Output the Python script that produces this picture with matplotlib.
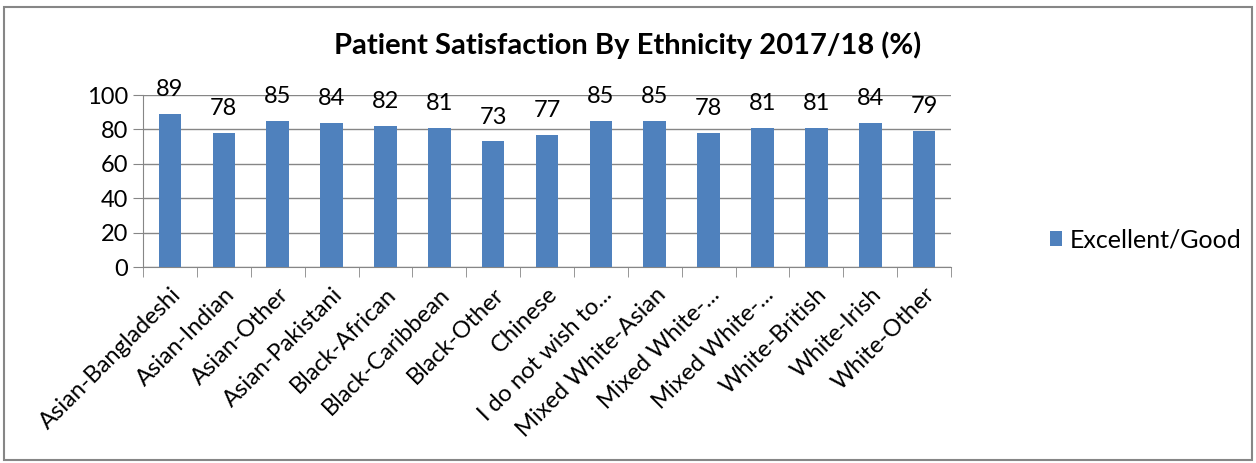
import matplotlib
matplotlib.use("Agg")
import matplotlib.pyplot as plt
from matplotlib.patches import Rectangle

# data
categories = ["Asian-Bangladeshi", "Asian-Indian", "Asian-Other", "Asian-Pakistani",
              "Black-African", "Black-Caribbean", "Black-Other", "Chinese",
              "I do not wish to...", "Mixed White-Asian", "Mixed White-...",
              "Mixed White-...", "White-British", "White-Irish", "White-Other"]
values = [89, 78, 85, 84, 82, 81, 73, 77, 85, 85, 78, 81, 81, 84, 79]
yticks = [0, 20, 40, 60, 80, 100]

plt.rcParams['font.family'] = ['Lato', 'DejaVu Sans']
grey = '#868686'
blue = '#4f81bd'

fig = plt.figure(figsize=(12.56, 4.63), dpi=100)
fig.patches.append(Rectangle((0.003, 0.006), 0.994, 0.978, transform=fig.transFigure,
                             fill=False, edgecolor=grey, linewidth=1.5))

ax = fig.add_axes([0.1139, 0.4233, 0.6433, 0.3715])
x = list(range(len(categories)))
bars = ax.bar(x, values, width=0.42, color=blue, label='Excellent/Good', zorder=3)
for xi, v in zip(x, values):
    ax.text(xi, v + 8, str(v), ha='center', va='bottom', fontsize=17, clip_on=False)

ax.set_xlim(-0.5, len(categories) - 0.5)
ax.set_ylim(0, 100)
ax.set_yticks(yticks)
ax.tick_params(axis='y', labelsize=17, length=7, color=grey, pad=4)
ax.yaxis.grid(True, color=grey, linewidth=1, zorder=0)
ax.set_xticks(x)
ax.set_xticklabels(categories, rotation=45, ha='right', rotation_mode='anchor', fontsize=17)
ax.tick_params(axis='x', which='major', length=0, pad=12)
ax.set_xticks([i - 0.5 for i in range(len(categories) + 1)], minor=True)
ax.tick_params(axis='x', which='minor', length=7, color=grey)
for s in ['top', 'right']:
    ax.spines[s].set_visible(False)
for s in ['left', 'bottom']:
    ax.spines[s].set_color(grey)

fig.text(0.5, 0.903, 'Patient Satisfaction By Ethnicity 2017/18 (%)', ha='center', va='center',
         fontsize=21, fontweight='bold')
fig.legend(handles=[bars], labels=['Excellent/Good'], loc='center left',
           bbox_to_anchor=(0.818, 0.482), frameon=False, fontsize=18,
           handlelength=0.5, handleheight=0.5, handletextpad=0.3)

fig.savefig('out.png', dpi=100)
